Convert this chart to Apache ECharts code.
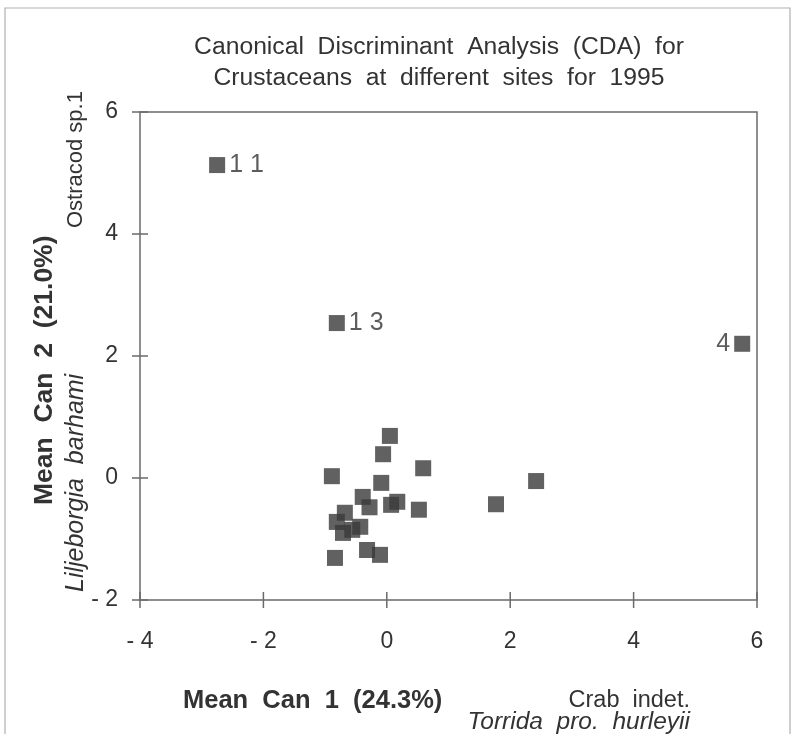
<!DOCTYPE html>
<html>
<head>
<meta charset="utf-8">
<script src="https://cdn.jsdelivr.net/npm/echarts@6/dist/echarts.min.js"></script>
<style>
  html, body { margin: 0; padding: 0; background: #fff; }
  #chart { width: 793px; height: 734px; }
</style>
</head>
<body>
<div id="chart"></div>
<script>
// Canonical scores (Mean Can 1, Mean Can 2) for each site, 1995
const siteCan1 = [-2.75, -0.81, 5.76, 0.05, -0.06, 0.59, -0.89, -0.09, -0.39, -0.28, 0.07, 0.17, 0.52,
                  -0.68, -0.81, -0.43, -0.56, -0.71, -0.32, -0.11, -0.84, 1.77, 2.42];
const siteCan2 = [5.13, 2.54, 2.20, 0.69, 0.39, 0.16, 0.03, -0.08, -0.31, -0.48, -0.44, -0.39, -0.52,
                  -0.57, -0.72, -0.80, -0.85, -0.90, -1.18, -1.26, -1.31, -0.43, -0.05];
const siteNames = ['1 1', '1 3', '4', '', '', '', '', '', '', '', '', '', '',
                   '', '', '', '', '', '', '', '', '', ''];

const xTickValues = [-4, -2, 0, 2, 4, 6];
const xTickLabels = ['- 4', '- 2', '0', '2', '4', '6'];
const yTickValues = [-2, 0, 2, 4, 6];
const yTickLabels = ['- 2', '0', '2', '4', '6'];

const X_MIN = -4, X_MAX = 6, Y_MIN = -2, Y_MAX = 6;

const FONT = '"Liberation Sans", Arial, sans-serif';
const INK = '#333333';
const AXIS = '#6a6a6a';
const TICK_HALF = 8;   // ticks cross the frame, half inside and half outside

const points = siteCan1.map((x, i) => ({
  value: [x, siteCan2[i]],
  label: {
    show: siteNames[i] !== '',
    formatter: siteNames[i],
    position: siteNames[i] === '4' ? 'left' : 'right',
    distance: 4
  }
}));

const tickText = (vals, labels) => v => {
  const k = vals.indexOf(v);
  return k >= 0 ? labels[k] : '';
};

// crossing tick marks, placed through the axis scales
const crossTicks = (values, onX) => ({
  type: 'custom',
  silent: true,
  clip: false,
  z: 3,
  data: values.map(v => [v]),
  renderItem: (params, api) => {
    const v = api.value(0);
    const p = onX ? api.coord([v, Y_MIN]) : api.coord([X_MIN, v]);
    const shape = onX
      ? { x1: p[0], y1: p[1] - TICK_HALF, x2: p[0], y2: p[1] + TICK_HALF }
      : { x1: p[0] - TICK_HALF, y1: p[1], x2: p[0] + TICK_HALF, y2: p[1] };
    return { type: 'line', shape, style: { stroke: AXIS, lineWidth: 1.5 } };
  }
});

const chart = echarts.init(document.getElementById('chart'), null, { renderer: 'canvas' });

chart.setOption({
  animation: false,
  backgroundColor: '#fff',
  title: {
    text: 'Canonical  Discriminant  Analysis  (CDA)  for\nCrustaceans  at  different  sites  for  1995',
    left: 434,
    textAlign: 'center',
    top: 27,
    textStyle: { fontFamily: FONT, fontSize: 24.7, fontWeight: 'normal', color: INK, lineHeight: 31 }
  },
  // the grid border is the plot frame
  grid: {
    left: 140, right: 36, top: 112, bottom: 134,
    show: true, borderColor: AXIS, borderWidth: 1.5, backgroundColor: 'transparent'
  },
  xAxis: {
    type: 'value', min: X_MIN, max: X_MAX, interval: 2,
    axisLine: { show: false, onZero: false },
    axisTick: { show: false },
    splitLine: { show: false },
    axisLabel: {
      formatter: tickText(xTickValues, xTickLabels),
      margin: 30, fontFamily: FONT, fontSize: 23, color: INK
    }
  },
  yAxis: {
    type: 'value', min: Y_MIN, max: Y_MAX, interval: 2,
    axisLine: { show: false, onZero: false },
    axisTick: { show: false },
    splitLine: { show: false },
    axisLabel: {
      formatter: tickText(yTickValues, yTickLabels),
      margin: 22, fontFamily: FONT, fontSize: 23, color: INK
    }
  },
  series: [{
    type: 'scatter',
    symbol: 'rect',
    symbolSize: 16,
    itemStyle: { color: '#3a3a3a' },
    label: { fontFamily: FONT, fontSize: 25, color: INK },
    z: 4,
    data: points
  }, crossTicks(xTickValues, true), crossTicks(yTickValues, false)],
  graphic: [
    // sheet border
    { type: 'polyline', shape: { points: [[5, 734], [5, 8], [790, 8], [790, 734]] },
      style: { stroke: '#b0b0b0', lineWidth: 1.2, fill: null } },
    // x axis titles
    { type: 'text', x: 183, y: 701,
      style: { text: 'Mean  Can  1  (24.3%)', fontFamily: FONT, fontSize: 25.5, fontWeight: 'bold', fill: INK,
               align: 'left', verticalAlign: 'middle' } },
    { type: 'text', x: 690, y: 701,
      style: { text: 'Crab  indet.', fontFamily: FONT, fontSize: 23.5, fill: INK,
               align: 'right', verticalAlign: 'middle' } },
    { type: 'text', x: 690, y: 722,
      style: { text: 'Torrida  pro.  hurleyii', fontFamily: FONT, fontSize: 24.5, fontStyle: 'italic', fill: INK,
               align: 'right', verticalAlign: 'middle' } },
    // y axis titles
    { type: 'text', x: 45, y: 505, rotation: Math.PI / 2,
      style: { text: 'Mean  Can  2  (21.0%)', fontFamily: FONT, fontSize: 26.5, fontWeight: 'bold', fill: INK,
               align: 'left', verticalAlign: 'middle' } },
    { type: 'text', x: 76, y: 592, rotation: Math.PI / 2,
      style: { text: 'Liljeborgia  barhami', fontFamily: FONT, fontSize: 25, fontStyle: 'italic', fill: INK,
               align: 'left', verticalAlign: 'middle' } },
    { type: 'text', x: 76, y: 228, rotation: Math.PI / 2,
      style: { text: 'Ostracod sp.1', fontFamily: FONT, fontSize: 22, fill: INK,
               align: 'left', verticalAlign: 'middle' } }
  ]
});
</script>
</body>
</html>
